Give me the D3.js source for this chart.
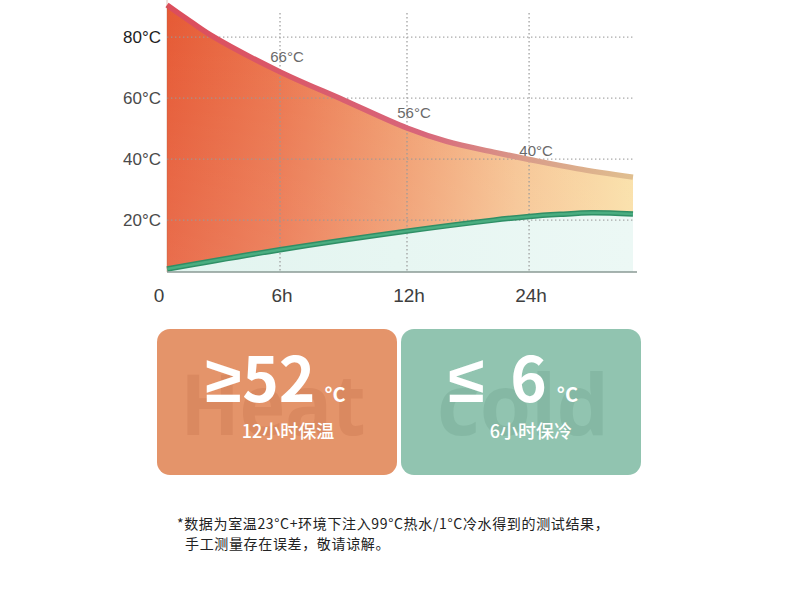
<!DOCTYPE html>
<html lang="zh-CN"><head><meta charset="utf-8">
<script src="https://cdn.jsdelivr.net/npm/d3@7"></script>
<style>
html,body{margin:0;padding:0;background:#fff;}
svg{display:block;}
</style>
</head><body>
<svg id="chart" width="790" height="610"></svg>
<script>
// ---- data ----
const tickHours = [0, 6, 12, 24];
const tickLabels = ["0", "6h", "12h", "24h"];
const endHour = 34;
const yTicks = [20, 40, 60, 80];
const yTickLabels = ["20°C", "40°C", "60°C", "80°C"];

const hotHours = [0, 1, 2.3, 6, 9, 12, 15.9, 20.5, 24, 28.6, 34];
const hotTemps = [90.5, 86.2, 80.7, 68.6, 59.4, 50.2, 45.8, 42.3, 39.9, 36.9, 34.1];

const coldHours = [0, 6, 12, 20.5, 24, 27, 30, 34];
const coldTemps = [4.0, 10.3, 16.4, 20.0, 21.2, 21.9, 22.4, 22.0];

const noteHours = [6, 12, 24];
const noteLabels = ["66°C", "56°C", "40°C"];

const cardSyms = ["≥", "≤"];
const cardNums = ["52", "6"];
const cardUnits = ["°C", "°C"];
const cardSubs = ["12小时保温", "6小时保冷"];
const cardMarks = ["Heat", "cold"];
const footnote = [
  "*数据为室温23°C+环境下注入99°C热水/1°C冷水得到的测试结果，",
  "手工测量存在误差，敬请谅解。"
];

// ---- layout ----
const svg = d3.select("#chart");
const plotLeft = 167, plotRight = 633, plotBottom = 272;
const W = plotRight - plotLeft;
const x = d3.scaleLinear()
  .domain([0, 6, 12, 24, endHour])
  .range([0, 0.2425, 0.515, 0.777, 1].map(f => plotLeft + f * W));
const y = d3.scaleLinear().domain([3, 92]).range([plotBottom, 0.5]);

const font = "'Noto Sans CJK SC','Noto Sans',sans-serif";
const defs = svg.append("defs");

const hot = hotHours.map((h, i) => ({h, v: hotTemps[i]}));
const cold = coldHours.map((h, i) => ({h, v: coldTemps[i]}));
const curve = d3.curveCatmullRom.alpha(0.5);
const hotInterp = d3.scaleLinear().domain(hotHours).range(hotTemps);

// gradients
const gFill = defs.append("linearGradient").attr("id", "gFill")
  .attr("gradientUnits", "userSpaceOnUse").attr("x1", plotLeft).attr("x2", plotRight).attr("y1", 0).attr("y2", 0);
[[0, "#e65a35"], [0.25, "#eb764e"], [0.5, "#f09b6d"], [0.75, "#f6c391"], [1, "#fadfa6"]]
  .forEach(([o, c]) => gFill.append("stop").attr("offset", o).attr("stop-color", c));

const gFillV = defs.append("linearGradient").attr("id", "gFillV")
  .attr("x1", 0).attr("x2", 0).attr("y1", 0).attr("y2", 1);
gFillV.append("stop").attr("offset", 0).attr("stop-color", "#fff").attr("stop-opacity", 0);
gFillV.append("stop").attr("offset", 1).attr("stop-color", "#fff").attr("stop-opacity", 0.12);

const gMint = defs.append("linearGradient").attr("id", "gMint")
  .attr("gradientUnits", "userSpaceOnUse").attr("x1", plotLeft).attr("x2", plotRight).attr("y1", 0).attr("y2", 0);
gMint.append("stop").attr("offset", 0).attr("stop-color", "#e2f4ef");
gMint.append("stop").attr("offset", 1).attr("stop-color", "#ecf8f5");

const gHotLine = defs.append("linearGradient").attr("id", "gHotLine")
  .attr("gradientUnits", "userSpaceOnUse").attr("x1", plotLeft).attr("x2", plotRight).attr("y1", 0).attr("y2", 0);
[[0, "#dc4d5b"], [0.55, "#d8667a"], [0.78, "#d99e8a"], [1, "#e0bf8f"]]
  .forEach(([o, c]) => gHotLine.append("stop").attr("offset", o).attr("stop-color", c));

// fills
const area = d3.area().curve(curve).x(d => x(d.h)).y0(y(3)).y1(d => y(d.v));
svg.append("path").attr("d", area(hot)).attr("fill", "url(#gFill)");
svg.append("path").attr("d", area(hot)).attr("fill", "url(#gFillV)");
svg.append("path").attr("d", area(cold)).attr("fill", "url(#gMint)");

// grid
const grid = svg.append("g").attr("stroke", "#9a9a9a").attr("stroke-width", 1.4)
  .attr("stroke-dasharray", "1.4,2.6").attr("opacity", 0.85);
grid.selectAll("line.h").data(yTicks).join("line").attr("class", "h")
  .attr("x1", plotLeft).attr("x2", plotRight).attr("y1", d => y(d)).attr("y2", d => y(d));
grid.selectAll("line.v").data(tickHours.slice(1)).join("line").attr("class", "v")
  .attr("x1", d => x(d)).attr("x2", d => x(d)).attr("y1", 13).attr("y2", plotBottom);

// lines
const line = d3.line().curve(curve).x(d => x(d.h)).y(d => y(d.v));
svg.append("path").attr("d", line(cold))
  .attr("fill", "none").attr("stroke", "#2f8f66").attr("stroke-width", 5.5);
svg.append("path").attr("d", line(cold))
  .attr("fill", "none").attr("stroke", "#4aad80").attr("stroke-width", 2.5);
svg.append("path").attr("d", line(hot))
  .attr("fill", "none").attr("stroke", "url(#gHotLine)").attr("stroke-width", 5.5);

// axes
svg.append("line").attr("x1", plotLeft).attr("x2", plotRight + 4).attr("y1", plotBottom).attr("y2", plotBottom)
  .attr("stroke", "#8a9a94").attr("stroke-width", 1.5);
svg.append("line").attr("x1", plotLeft).attr("x2", plotLeft).attr("y1", 0).attr("y2", plotBottom)
  .attr("stroke", "#b06040").attr("stroke-width", 1).attr("opacity", 0.35);

svg.append("g").selectAll("text").data(yTicks).join("text")
  .attr("x", 161).attr("y", d => y(d)).attr("dy", "0.36em")
  .attr("text-anchor", "end").attr("font-family", "'Liberation Sans',Arial,sans-serif")
  .attr("font-size", 17).attr("fill", (d, i) => i === 3 ? "#1e1e1e" : "#4a4a4a")
  .text((d, i) => yTickLabels[i]);

svg.append("g").selectAll("text").data(tickHours).join("text")
  .attr("x", (d, i) => i === 0 ? x(d) - 8 : x(d) + 2).attr("y", 295).attr("dy", "0.36em")
  .attr("text-anchor", "middle").attr("font-family", "'Liberation Sans',Arial,sans-serif")
  .attr("font-size", 19).attr("fill", "#3e3e3e")
  .text((d, i) => tickLabels[i]);

// annotations
svg.append("g").selectAll("text").data(noteHours).join("text")
  .attr("x", d => x(d) + 7)
  .attr("y", (d, i) => y(hotInterp(d)) - (i === 2 ? 9 : 15)).attr("dy", "0.36em")
  .attr("text-anchor", "middle").attr("font-family", "'Liberation Sans',Arial,sans-serif")
  .attr("font-size", 15).attr("fill", "#6a6a6a")
  .text((d, i) => noteLabels[i]);

// cards
const cardX = [157, 401], cardW = 240, cardY = 329, cardH = 146;
const cardFill = ["#e4946a", "#91c4b0"];
const markFill = ["#cf7c54", "#78ab96"];
cardSyms.forEach((sym, i) => {
  const g = svg.append("g").attr("transform", `translate(${cardX[i]},${cardY})`);
  g.append("rect").attr("width", cardW).attr("height", cardH).attr("rx", 13)
    .attr("fill", cardFill[i]);
  g.append("text").attr("x", cardW / 2 + (i === 0 ? -4 : 2)).attr("y", 106)
    .attr("text-anchor", "middle").attr("font-family", "'Open Sans','Noto Sans',sans-serif")
    .attr("font-weight", 700).attr("font-size", 84).attr("fill", markFill[i]).attr("opacity", 0.45)
    .attr("textLength", i === 0 ? 185 : 172).attr("lengthAdjust", "spacingAndGlyphs")
    .text(cardMarks[i]);
  const t = g.append("text").attr("y", 73).attr("fill", "#fff")
    .attr("font-family", font).attr("font-weight", 700);
  t.attr("x", i === 0 ? 48 : 47);
  t.append("tspan").attr("font-family", "'Liberation Sans',Arial,sans-serif")
    .attr("font-size", 66).text(sym);
  t.append("tspan").attr("font-size", 62).attr("dx", i === 0 ? 1 : 26).text(cardNums[i]);
  t.append("tspan").attr("font-size", 20).attr("dx", i === 0 ? 9 : 10).text(cardUnits[i]);
  g.append("text").attr("x", i === 0 ? 131 : 130).attr("y", 103).attr("dy", "0.36em")
    .attr("text-anchor", "middle").attr("fill", "#fff").attr("font-family", font)
    .attr("font-weight", 500).attr("font-size", 18).text(cardSubs[i]);
});

// footnote
svg.append("g").selectAll("text").data(footnote).join("text")
  .attr("x", (d, i) => i === 0 ? 177 : 185).attr("y", (d, i) => 524 + i * 20).attr("dy", "0.36em")
  .attr("font-family", font).attr("font-size", 14).attr("letter-spacing", 0.65).attr("fill", "#222")
  .text(d => d);
</script>
</body></html>
